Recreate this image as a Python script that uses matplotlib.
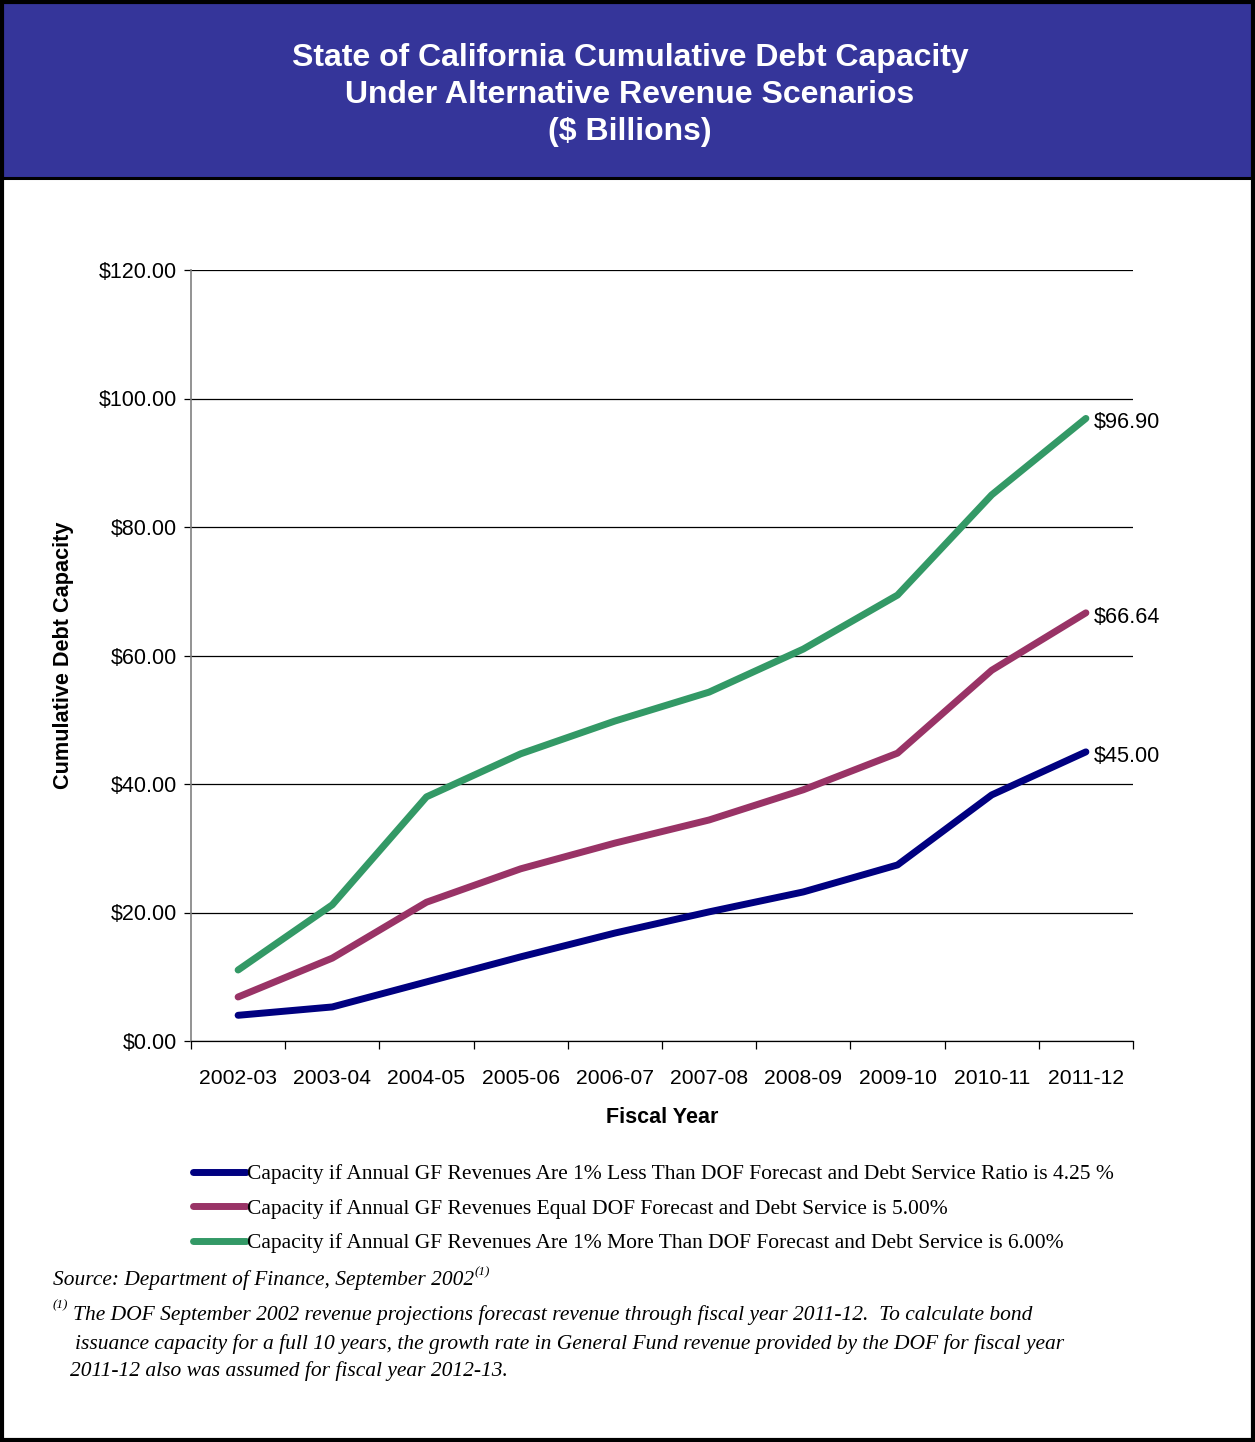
import matplotlib
matplotlib.use("Agg")
import matplotlib.pyplot as plt
from matplotlib.patches import Rectangle
from matplotlib.lines import Line2D
from matplotlib.ticker import FixedLocator

years = ["2002-03", "2003-04", "2004-05", "2005-06", "2006-07",
         "2007-08", "2008-09", "2009-10", "2010-11", "2011-12"]
low = [4.0, 5.3, 9.2, 13.1, 16.8, 20.1, 23.2, 27.4, 38.3, 45.00]
equal = [6.85, 12.9, 21.6, 26.8, 30.8, 34.4, 39.1, 44.8, 57.7, 66.64]
high = [11.05, 21.2, 38.0, 44.7, 49.8, 54.3, 61.0, 69.4, 85.0, 96.90]
end_labels = ["$45.00", "$66.64", "$96.90"]
series_labels = [
    "Capacity if Annual GF Revenues Are 1% Less Than DOF Forecast and Debt Service Ratio is 4.25 %",
    "Capacity if Annual GF Revenues Equal DOF Forecast and Debt Service is 5.00%",
    "Capacity if Annual GF Revenues Are 1% More Than DOF Forecast and Debt Service is 6.00%",
]
colors = ["#000080", "#993366", "#339966"]
yticks = [0, 20, 40, 60, 80, 100, 120]

W, H = 1255, 1442
fig = plt.figure(figsize=(W / 100, H / 100), dpi=100)
fig.patch.set_facecolor("white")

def fx(x):
    return x / W

def fy(y):
    return 1 - y / H

# title band
fig.add_artist(Rectangle((fx(3), fy(178)), fx(1249), 175 / H, transform=fig.transFigure,
                         facecolor="#35359A", edgecolor="none", zorder=0))
fig.add_artist(Line2D([fx(3), fx(1252)], [fy(178), fy(178)], transform=fig.transFigure,
                      color="black", lw=2.2))
# outer border
fig.add_artist(Rectangle((fx(2), fy(1440)), fx(1251), 1438 / H, transform=fig.transFigure,
                         facecolor="none", edgecolor="black", lw=3, zorder=10))

sans = "Liberation Sans"
serif = "Liberation Serif"
for txt, y in [("State of California Cumulative Debt Capacity", 58),
               ("Under Alternative Revenue Scenarios", 95),
               ("($ Billions)", 132)]:
    fig.text(fx(630), fy(y), txt, ha="center", va="center", color="white",
             fontsize=23, fontweight="bold", family=sans)

ax = fig.add_axes([fx(191), fy(1041), fx(1133 - 191), (1041 - 270) / H])
x = list(range(len(years)))
lines = []
for vals, c, lab in zip([low, equal, high], colors, series_labels):
    ln, = ax.plot(x, vals, color=c, lw=5, solid_capstyle="round",
                  solid_joinstyle="round", label=lab, zorder=3)
    lines.append(ln)
for vals, c, lab in zip([low, equal, high], colors, end_labels):
    ax.annotate(lab, xy=(x[-1], vals[-1]), xytext=(6, -3), textcoords="offset points",
                ha="left", va="center", fontsize=15.6, family=sans, color="black")

ax.set_xlim(-0.5, len(years) - 0.5)
ax.set_ylim(0, 120)
ax.set_yticks(yticks)
ax.set_yticklabels([f"${v:.2f}" for v in yticks], family=sans, fontsize=15.5)
ax.yaxis.grid(True, color="black", lw=0.9)
ax.set_axisbelow(True)
ax.set_xticks(x)
ax.set_xticklabels(years, family=sans, fontsize=15.2)
ax.xaxis.set_minor_locator(FixedLocator([i - 0.5 for i in range(len(years) + 1)]))
ax.tick_params(axis="x", which="major", length=0, pad=20)
ax.tick_params(axis="x", which="minor", length=6, width=0.9, direction="out")
ax.tick_params(axis="y", length=5, width=0.9, direction="out", pad=5)
for s in ["top", "right"]:
    ax.spines[s].set_visible(False)
ax.spines["left"].set_color("#808080")
ax.spines["left"].set_linewidth(1.2)
ax.spines["bottom"].set_color("black")
ax.spines["bottom"].set_linewidth(0.9)
ax.set_xlabel("Fiscal Year", family=sans, fontsize=15.5, fontweight="bold", labelpad=14)
ax.set_ylabel("Cumulative Debt Capacity", family=sans, fontsize=15.6,
              fontweight="bold", labelpad=14)
ax.yaxis.set_label_coords(fx(74 - 191) / fx(1133 - 191), 0.5)

leg = fig.legend(handles=lines, loc="upper left", bbox_to_anchor=(fx(193), fy(1164)),
                 frameon=False, prop={"family": serif, "size": 15.5},
                 handlelength=2.45, handletextpad=0.05, labelspacing=0.68, borderpad=0,
                 borderaxespad=0)

fig.text(fx(53), fy(1280), "Source: Department of Finance, September 2002",
         ha="left", va="center", fontsize=15.4, style="italic", family=serif)
fig.text(fx(475), fy(1272), "(1)", ha="left", va="center", fontsize=9.5,
         style="italic", family=serif)
fig.text(fx(53), fy(1305), "(1)", ha="left", va="center", fontsize=9.5,
         style="italic", family=serif)
fig.text(fx(73), fy(1315),
         "The DOF September 2002 revenue projections forecast revenue through fiscal year 2011-12.  To calculate bond",
         ha="left", va="center", fontsize=15.5, style="italic", family=serif)
fig.text(fx(75), fy(1344),
         "issuance capacity for a full 10 years, the growth rate in General Fund revenue provided by the DOF for fiscal year",
         ha="left", va="center", fontsize=15.5, style="italic", family=serif)
fig.text(fx(70), fy(1371), "2011-12 also was assumed for fiscal year 2012-13.",
         ha="left", va="center", fontsize=15.5, style="italic", family=serif)

fig.savefig("out.png", dpi=100)
